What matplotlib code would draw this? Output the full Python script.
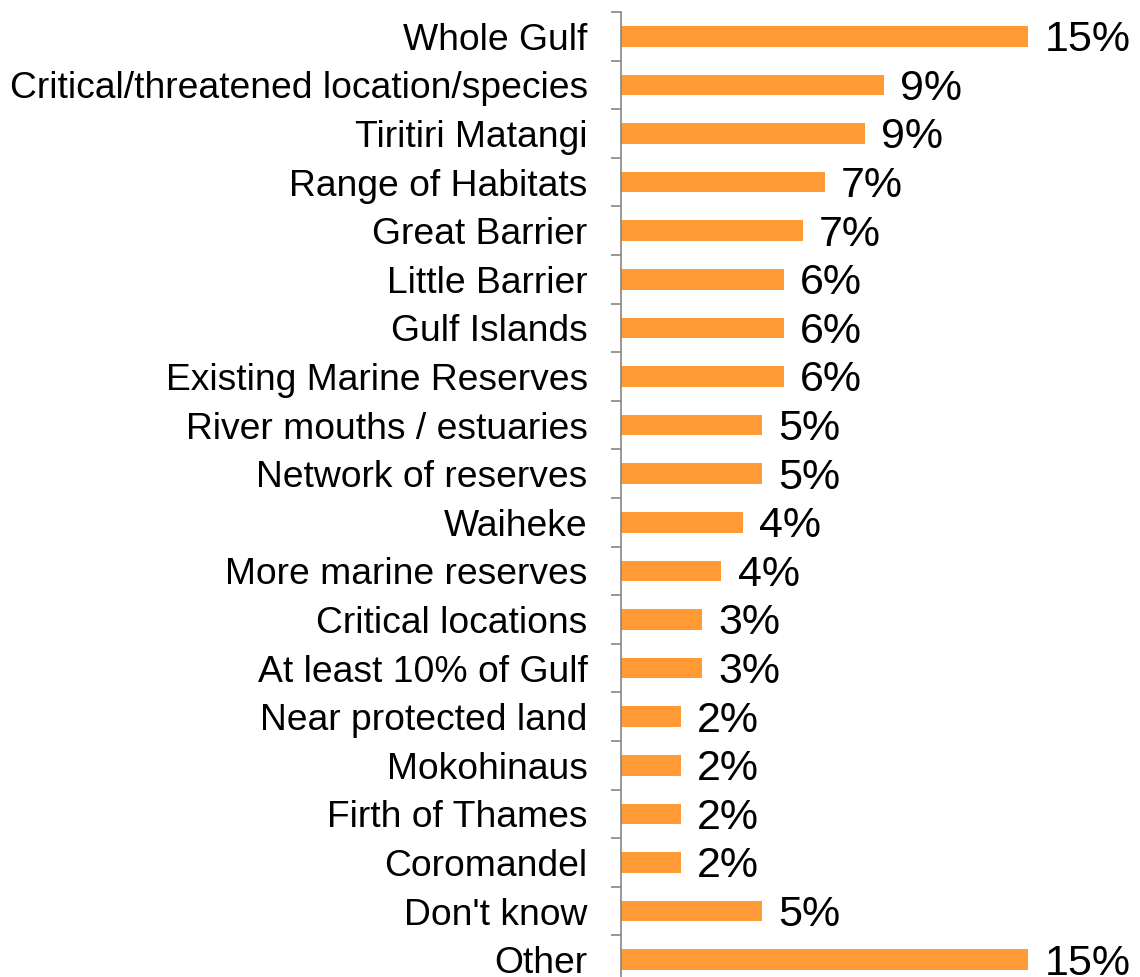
import matplotlib
matplotlib.use("Agg")
import matplotlib.pyplot as plt
import numpy as np

# kategorie od góry do dołu
categories = ["Whole Gulf", "Critical/threatened location/species", "Tiritiri Matangi",
              "Range of Habitats", "Great Barrier", "Little Barrier", "Gulf Islands",
              "Existing Marine Reserves", "River mouths / estuaries", "Network of reserves",
              "Waiheke", "More marine reserves", "Critical locations", "At least 10% of Gulf",
              "Near protected land", "Mokohinaus", "Firth of Thames", "Coromandel",
              "Don't know", "Other"]
# długości słupków (w %)
values = [15.0, 9.7, 9.0, 7.5, 6.7, 6.0, 6.0, 6.0, 5.2, 5.2,
          4.5, 3.7, 3.0, 3.0, 2.2, 2.2, 2.2, 2.2, 5.2, 15.0]
# etykiety wartości tak jak na wykresie
value_labels = ["15%", "9%", "9%", "7%", "7%", "6%", "6%", "6%", "5%", "5%",
                "4%", "4%", "3%", "3%", "2%", "2%", "2%", "2%", "5%", "15%"]

plt.rcParams['font.family'] = ['Liberation Sans', 'DejaVu Sans']

W, H = 1140, 977
fig = plt.figure(figsize=(W / 100, H / 100), dpi=100)
# oś pionowa na x=621 px, 15% = 407 px, góra osi y=12 px, 48.6 px na kategorię
ax = fig.add_axes([621 / W, (H - 12 - 20 * 48.6) / H, 407 / W, 20 * 48.6 / H])

y = np.arange(len(categories))
ax.barh(y, values, height=0.42, color='#FF9A35', zorder=2)
ax.set_xlim(0, 15)
ax.set_ylim(len(categories) - 0.5, -0.5)

for yi, v, lab in zip(y, values, value_labels):
    ax.text(v + 0.6, yi + 0.08, lab, va='center', ha='left', fontsize=31,
            color='black', clip_on=False)

ax.set_yticks(y)
ax.set_yticklabels(categories, fontsize=26.8)
ax.set_yticks(np.arange(-0.5, len(categories), 1), minor=True)
ax.tick_params(axis='y', which='major', length=0, pad=24)
ax.tick_params(axis='y', which='minor', length=7.2, width=1.2, color='#868686')
ax.set_xticks([])

for s in ['top', 'right', 'bottom']:
    ax.spines[s].set_visible(False)
ax.spines['left'].set_color('#868686')
ax.spines['left'].set_linewidth(1.2)

fig.savefig("out.png", dpi=100)
